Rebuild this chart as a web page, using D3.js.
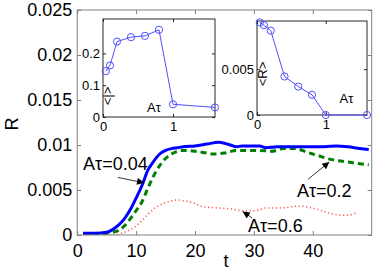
<!DOCTYPE html>
<html><head><meta charset="utf-8">
<script src="https://cdn.jsdelivr.net/npm/d3@7"></script>
<style>
html,body{margin:0;padding:0;background:#fff;}
svg text{font-family:"Liberation Sans",Arial,sans-serif;}
</style></head>
<body><svg id="c" width="382" height="278"></svg>
<script>
// ---- data ----
const tBlue = [1,3,5,6,7,8,9,10,11,12,13,14,15,16,17,18,20,22,24,25,26,27,28,29,30,31,32,34,36,38,40,42,44,46,48,49.5];
const rBlue = [0.0002,0.0002,0.0003,0.0006,0.0011,0.0018,0.0028,0.0041,0.0055,0.0072,0.0082,0.0090,0.0094,0.0096,0.0097,0.0098,0.0099,0.0101,0.0103,0.0102,0.0100,0.0098,0.0099,0.0099,0.0099,0.0099,0.0097,0.0098,0.0098,0.0098,0.0098,0.0098,0.0099,0.0098,0.0096,0.0095];
const tGreen = [1,3,5,6,7,8,9,10,11,12,13,14,15,16,17,18,20,22,23,25,27,29,31,33,35,37,39,41,43,45,47,49.5];
const rGreen = [0.0001,0.0001,0.0002,0.0003,0.0005,0.0010,0.0018,0.0027,0.0037,0.0052,0.0066,0.0077,0.0085,0.0090,0.0093,0.0094,0.0093,0.0091,0.0090,0.0091,0.0094,0.0094,0.0094,0.0093,0.0096,0.0096,0.0092,0.0088,0.0084,0.0082,0.0080,0.0078];
const tRed = [1,5,7,8,9,10,11,12,13,14,15,16,17,18,19,20,21,22,24,26,28,30,31,32,34,36,37,38,40,42,43,45,46,47.5];
const rRed = [0,0,0.0001,0.0003,0.0006,0.0010,0.0016,0.0023,0.0029,0.0033,0.0036,0.0038,0.0039,0.0038,0.0037,0.0035,0.0032,0.0031,0.0030,0.0029,0.0027,0.0027,0.0028,0.0030,0.0030,0.0031,0.0032,0.0032,0.0030,0.0026,0.0024,0.0022,0.0022,0.0025];
const xTicks = [0,10,20,30,40];
const yTicks = [0,0.005,0.01,0.015,0.02,0.025];
const yTickLabels = ["0","0.005","0.01","0.015","0.02","0.025"];

const insetA = [0.04,0.1,0.2,0.4,0.6,0.8,1.0,1.6];
const inset1Vals = [0.144,0.162,0.237,0.251,0.255,0.274,0.040,0.030];
const inset2Vals = [0.0101,0.0098,0.0092,0.0042,0.0031,0.0022,0,0];
const inset1YTicks = [0,0.1,0.2];
const inset2YTicks = [0,0.005];
const insetXTicks = [0,1];

const annotations = [
  {label:"Aτ=0.04", tx:1.0, ty:0.0072, ax0:6.9, ay0:0.0064, ax1:11.35, ay1:0.0058},
  {label:"Aτ=0.2",  tx:37.3, ty:0.0042, ax0:39.2, ay0:0.0062, ax1:42.8, ay1:0.0081},
  {label:"Aτ=0.6",  tx:29.0, ty:0.0003, ax0:29.7, ay0:0.0019, ax1:28.1, ay1:0.0026}
];

// ---- main chart ----
const svg = d3.select("#c");
const M = {l:77.2, t:10, r:371.7, b:235};
const x = d3.scaleLinear().domain([0,50]).range([M.l, M.r]);
const y = d3.scaleLinear().domain([0,0.025]).range([M.b, M.t]);
const frameCol = "#808080";

const defs = svg.append("defs");
defs.append("marker").attr("id","arr").attr("viewBox","0 0 10 10").attr("refX",10).attr("refY",5)
  .attr("markerWidth",9).attr("markerHeight",7).attr("markerUnits","userSpaceOnUse").attr("orient","auto")
  .append("path").attr("d","M0,0L10,5L0,10z").attr("fill","#000");
defs.append("clipPath").attr("id","mclip").append("rect")
  .attr("x",M.l).attr("y",M.t).attr("width",M.r-M.l).attr("height",M.b-M.t);

// curves
const line = (ts, rs) => d3.line().x((d,i)=>x(ts[i])).y(d=>y(d)).curve(d3.curveMonotoneX)(rs);
const g = svg.append("g").attr("clip-path","url(#mclip)");
g.append("path").attr("d", line(tRed,rRed)).attr("fill","none").attr("stroke","#ff4040")
  .attr("stroke-width",1.6).attr("stroke-dasharray","1.2,2.6").attr("opacity",0.85);
g.append("path").attr("d", line(tGreen,rGreen)).attr("fill","none").attr("stroke","#007f00")
  .attr("stroke-width",3).attr("stroke-dasharray","6,4");
g.append("path").attr("d", line(tBlue,rBlue)).attr("fill","none").attr("stroke","#0000ff")
  .attr("stroke-width",3);

// frame
svg.append("rect").attr("x",M.l).attr("y",M.t).attr("width",M.r-M.l).attr("height",M.b-M.t)
  .attr("fill","none").attr("stroke",frameCol).attr("stroke-width",1);
// axes with inward ticks
const xa = svg.append("g").attr("transform",`translate(0,${M.b})`)
  .call(d3.axisBottom(x).tickValues(xTicks).tickSizeInner(-4).tickSizeOuter(0).tickPadding(9));
const xt = svg.append("g").attr("transform",`translate(0,${M.t})`)
  .call(d3.axisTop(x).tickValues(xTicks).tickSizeInner(-4).tickSizeOuter(0).tickFormat(""));
const ya = svg.append("g").attr("transform",`translate(${M.l},0)`)
  .call(d3.axisLeft(y).tickValues(yTicks).tickSizeInner(-4).tickSizeOuter(0).tickPadding(9)
    .tickFormat((d,i)=>yTickLabels[i]));
const yr = svg.append("g").attr("transform",`translate(${M.r},0)`)
  .call(d3.axisRight(y).tickValues(yTicks).tickSizeInner(-4).tickSizeOuter(0).tickFormat(""));
[xa,xt,ya,yr].forEach(a=>{
  a.select(".domain").remove();
  a.selectAll(".tick line").attr("stroke",frameCol);
  a.selectAll("text").attr("font-size",18).attr("fill","#000").attr("font-family","Liberation Sans, Arial, sans-serif");
});
xa.selectAll("text").attr("dy","0.75em").attr("dy", null).attr("y", 9).attr("dominant-baseline","hanging");
ya.selectAll("text").attr("x",-5);

svg.append("text").attr("x",226).attr("y",267).attr("text-anchor","middle").attr("font-size",18).text("t");
svg.append("text").attr("transform","translate(18,124) rotate(-90)").attr("text-anchor","middle")
  .attr("font-size",18).text("R");

// annotations
annotations.forEach(a=>{
  svg.append("text").attr("x",x(a.tx)).attr("y",y(a.ty)).attr("font-size",18).text(a.label);
  svg.append("line").attr("x1",x(a.ax0)).attr("y1",y(a.ay0)).attr("x2",x(a.ax1)).attr("y2",y(a.ay1))
    .attr("stroke","#000").attr("stroke-width",0.8).attr("marker-end","url(#arr)");
});

// ---- insets ----
function inset(box, ydom, vals, yticks, yfmt, ylabel, albl){
  const ix = d3.scaleLinear().domain([0,1.6]).range([box.l, box.r]);
  const iy = d3.scaleLinear().domain(ydom).range([box.b, box.t]);
  const ig = svg.append("g");
  ig.append("rect").attr("x",box.l).attr("y",box.t).attr("width",box.r-box.l).attr("height",box.b-box.t)
    .attr("fill","#fff").attr("stroke","#262626").attr("stroke-width",1);
  const bx = ig.append("g").attr("transform",`translate(0,${box.b})`)
    .call(d3.axisBottom(ix).tickValues(insetXTicks).tickSizeInner(-3).tickSizeOuter(0).tickPadding(6).tickFormat(d3.format("d")));
  const tx = ig.append("g").attr("transform",`translate(0,${box.t})`)
    .call(d3.axisTop(ix).tickValues(insetXTicks).tickSizeInner(-3).tickSizeOuter(0).tickFormat(""));
  const ly = ig.append("g").attr("transform",`translate(${box.l},0)`)
    .call(d3.axisLeft(iy).tickValues(yticks).tickSizeInner(-3).tickSizeOuter(0).tickPadding(6).tickFormat(yfmt));
  const ry = ig.append("g").attr("transform",`translate(${box.r},0)`)
    .call(d3.axisRight(iy).tickValues(yticks).tickSizeInner(-3).tickSizeOuter(0).tickFormat(""));
  [bx,tx,ly,ry].forEach(a=>{
    a.select(".domain").remove();
    a.selectAll(".tick line").attr("stroke","#262626");
    a.selectAll("text").attr("font-size",13).attr("fill","#000").attr("font-family","Liberation Sans, Arial, sans-serif");
  });
  ly.selectAll("text").attr("x",-3);
  bx.selectAll("text").attr("y",5);
  ig.append("path").attr("d", d3.line().x((d,i)=>ix(insetA[i])).y(d=>iy(d))(vals))
    .attr("fill","none").attr("stroke","#5050ff").attr("stroke-width",1);
  ig.selectAll("circle.m").data(vals).join("circle").attr("class","m")
    .attr("cx",(d,i)=>ix(insetA[i])).attr("cy",d=>iy(d)).attr("r",3.6)
    .attr("fill","none").attr("stroke","#5050ff").attr("stroke-width",1);
  ig.append("text").attr("transform",`translate(${box.l+ylabel.dx},${ylabel.y}) rotate(-90)`)
    .attr("text-anchor","middle").attr("font-size",13).text(ylabel.text);
  ig.append("text").attr("x",ix(albl.a)).attr("y",iy(albl.v)).attr("font-size",13).text("Aτ");
}
inset({l:103,t:19,r:215,b:117},[0,0.308],inset1Vals,inset1YTicks,
  d=> d===0 ? "0" : d3.format(".1f")(d), {text:"<|>", dx:9, y:96}, {a:0.63, v:0.016});
inset({l:257,t:21,r:367,b:115},[0,0.01025],inset2Vals,inset2YTicks,
  d=> d===0 ? "0" : "0.005", {text:"<R>", dx:10, y:74}, {a:1.2, v:0.0013});
</script></body></html>
